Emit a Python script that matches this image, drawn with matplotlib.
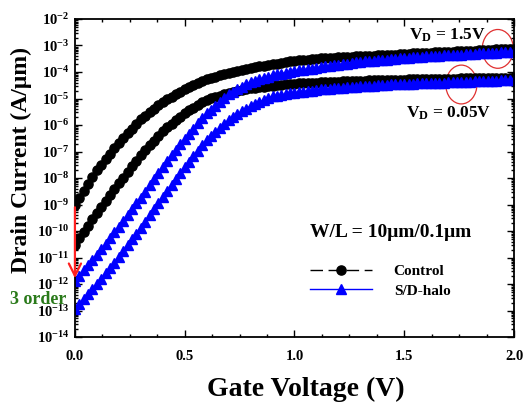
import numpy as np
import matplotlib
matplotlib.use('Agg')
import matplotlib.pyplot as plt
from matplotlib.patches import Ellipse
from matplotlib.ticker import LogLocator, MultipleLocator, FixedLocator, NullFormatter

plt.rcParams.update({
    'font.family': 'Liberation Serif',
    'font.weight': 'bold',
    'mathtext.fontset': 'custom',
    'mathtext.rm': 'Liberation Serif:bold',
    'mathtext.bf': 'Liberation Serif:bold',
    'mathtext.it': 'Liberation Serif:bold:italic',
})

# gate voltage sweep, 0 to 2 V in 20 mV steps
vg = np.linspace(0.0, 2.0, 101)

# log10 of drain current (A/um)
ctrl_15 = [
    -9.00, -8.74, -8.48, -8.23, -7.97, -7.71, -7.50, -7.29, -7.09, -6.88,
    -6.67, -6.49, -6.32, -6.14, -5.97, -5.79, -5.66, -5.52, -5.39, -5.25,
    -5.12, -5.02, -4.93, -4.83, -4.74, -4.64, -4.57, -4.50, -4.42, -4.35,
    -4.28, -4.23, -4.18, -4.13, -4.08, -4.03, -3.99, -3.96, -3.92, -3.89,
    -3.85, -3.82, -3.79, -3.76, -3.73, -3.70, -3.68, -3.65, -3.63, -3.60,
    -3.58, -3.56, -3.55, -3.53, -3.51, -3.50, -3.49, -3.48, -3.47, -3.46,
    -3.45, -3.44, -3.43, -3.42, -3.41, -3.40, -3.39, -3.38, -3.38, -3.37,
    -3.36, -3.35, -3.34, -3.34, -3.33, -3.32, -3.31, -3.30, -3.30, -3.29,
    -3.28, -3.27, -3.26, -3.26, -3.25, -3.24, -3.23, -3.22, -3.22, -3.21,
    -3.20, -3.19, -3.18, -3.18, -3.17, -3.16, -3.15, -3.14, -3.14, -3.13,
    -3.12,
]
ctrl_005 = [
    -10.52, -10.28, -10.04, -9.80, -9.56, -9.32, -9.10, -8.87, -8.65, -8.42,
    -8.20, -7.99, -7.78, -7.56, -7.35, -7.14, -6.96, -6.77, -6.59, -6.40,
    -6.22, -6.08, -5.95, -5.81, -5.68, -5.54, -5.44, -5.34, -5.24, -5.14,
    -5.04, -4.99, -4.94, -4.89, -4.84, -4.79, -4.76, -4.72, -4.69, -4.65,
    -4.62, -4.60, -4.58, -4.55, -4.53, -4.51, -4.50, -4.48, -4.47, -4.45,
    -4.44, -4.43, -4.42, -4.42, -4.41, -4.40, -4.39, -4.38, -4.38, -4.37,
    -4.36, -4.35, -4.35, -4.34, -4.34, -4.33, -4.33, -4.32, -4.32, -4.31,
    -4.31, -4.30, -4.30, -4.29, -4.29, -4.29, -4.28, -4.28, -4.27, -4.27,
    -4.27, -4.27, -4.26, -4.26, -4.26, -4.26, -4.25, -4.25, -4.24, -4.24,
    -4.24, -4.24, -4.23, -4.23, -4.23, -4.23, -4.23, -4.22, -4.22, -4.22,
    -4.22,
]
halo_15 = [
    -11.89, -11.69, -11.49, -11.30, -11.10, -10.90, -10.69, -10.48, -10.26, -10.05,
    -9.84, -9.62, -9.40, -9.18, -8.96, -8.74, -8.51, -8.27, -8.04, -7.80,
    -7.57, -7.36, -7.15, -6.94, -6.73, -6.52, -6.33, -6.14, -5.94, -5.75,
    -5.56, -5.42, -5.27, -5.13, -4.98, -4.84, -4.75, -4.66, -4.56, -4.47,
    -4.38, -4.33, -4.28, -4.22, -4.17, -4.12, -4.09, -4.06, -4.03, -4.00,
    -3.97, -3.94, -3.92, -3.89, -3.87, -3.84, -3.82, -3.79, -3.77, -3.74,
    -3.72, -3.70, -3.68, -3.66, -3.64, -3.62, -3.60, -3.59, -3.57, -3.56,
    -3.54, -3.53, -3.51, -3.50, -3.48, -3.47, -3.46, -3.45, -3.43, -3.42,
    -3.41, -3.40, -3.39, -3.38, -3.37, -3.36, -3.35, -3.34, -3.34, -3.33,
    -3.32, -3.31, -3.30, -3.30, -3.29, -3.28, -3.27, -3.26, -3.26, -3.25,
    -3.24,
]
halo_005 = [
    -12.95, -12.76, -12.57, -12.39, -12.20, -12.01, -11.80, -11.60, -11.39, -11.19,
    -10.98, -10.76, -10.54, -10.32, -10.10, -9.88, -9.65, -9.41, -9.18, -8.94,
    -8.71, -8.49, -8.27, -8.04, -7.82, -7.60, -7.39, -7.18, -6.98, -6.77,
    -6.56, -6.41, -6.26, -6.11, -5.96, -5.81, -5.70, -5.60, -5.49, -5.39,
    -5.28, -5.21, -5.14, -5.06, -4.99, -4.92, -4.89, -4.86, -4.84, -4.81,
    -4.78, -4.76, -4.74, -4.72, -4.70, -4.68, -4.66, -4.65, -4.63, -4.62,
    -4.60, -4.59, -4.58, -4.56, -4.55, -4.54, -4.53, -4.52, -4.51, -4.50,
    -4.49, -4.48, -4.47, -4.47, -4.46, -4.45, -4.44, -4.44, -4.43, -4.43,
    -4.42, -4.41, -4.41, -4.40, -4.40, -4.39, -4.38, -4.38, -4.37, -4.37,
    -4.36, -4.35, -4.35, -4.34, -4.34, -4.33, -4.33, -4.32, -4.32, -4.31,
    -4.31,
]

labels = ['Control', 'S/D-halo']
decades = np.arange(-14, -1)

fig = plt.figure(figsize=(5.24, 4.13), dpi=100)
ax = fig.add_axes([0.143, 0.184, 0.838, 0.770])

ms = 6.6
ax.plot(vg, 10.0 ** np.array(ctrl_15), 'k--o', ms=ms, lw=1, dashes=(9, 4), label=labels[0])
ax.plot(vg, 10.0 ** np.array(ctrl_005), 'k--o', ms=ms, lw=1, dashes=(9, 4))
ax.plot(vg, 10.0 ** np.array(halo_15), '-^', color='#0000ff', ms=ms, lw=1, label=labels[1])
ax.plot(vg, 10.0 ** np.array(halo_005), '-^', color='#0000ff', ms=ms, lw=1)

ax.set_yscale('log')
ax.set_xlim(0, 2.0)
ax.set_ylim(1e-14, 1e-2)
ax.yaxis.set_major_locator(FixedLocator(10.0 ** decades))
ax.set_yticklabels([r'$10^{%d}$' % d for d in decades])
ax.yaxis.set_minor_locator(LogLocator(base=10, subs=np.arange(2, 10), numticks=100))
ax.yaxis.set_minor_formatter(NullFormatter())
ax.xaxis.set_major_locator(MultipleLocator(0.5))
ax.xaxis.set_minor_locator(MultipleLocator(0.125))
ax.set_xticklabels(['%.1f' % v for v in ax.get_xticks()])

ax.tick_params(which='both', direction='in', top=True, right=True, width=1)
ax.tick_params(which='major', length=5, labelsize=10.5)
ax.tick_params(which='minor', length=2.5)
ax.tick_params(axis='x', pad=9)
ax.tick_params(axis='y', pad=4)
for s in ax.spines.values():
    s.set_linewidth(1.3)

ax.set_xlabel('Gate Voltage (V)', fontsize=20, fontweight='bold')
ax.xaxis.set_label_coords(0.526, -0.125)
ax.set_ylabel('Drain Current (A/μm)', fontsize=17, fontweight='bold')
ax.yaxis.set_label_coords(-0.098, 0.557)

ax.legend(loc='center left', bbox_to_anchor=(0.505, 0.176), frameon=False,
          handlelength=4.0, handletextpad=1.45, labelspacing=0.4,
          prop={'family': 'Liberation Serif', 'weight': 'bold', 'size': 11})

ax.text(0.72, 0.33, 'W/L = 10μm/0.1μm', transform=ax.transAxes,
        ha='center', va='center', fontsize=14, fontweight='bold')
ax.text(0.847, 0.95, r'V$_\mathregular{D}$ = 1.5V', transform=ax.transAxes,
        ha='center', va='center', fontsize=12.5, fontweight='bold')
ax.text(0.852, 0.704, r'V$_\mathregular{D}$ = 0.05V', transform=ax.transAxes,
        ha='center', va='center', fontsize=12.5, fontweight='bold')

# red circles marking the on-current region
ax.add_patch(Ellipse((0.963, 0.906), 0.071, 0.122, transform=ax.transAxes,
                     fill=False, ec='#e03030', lw=0.9))
ax.add_patch(Ellipse((0.880, 0.794), 0.071, 0.122, transform=ax.transAxes,
                     fill=False, ec='#e03030', lw=0.9))

# 3 decades drop at Vg = 0
ax.annotate('', xy=(0.0, 1.3e-12), xytext=(0.0, 1e-9),
            arrowprops=dict(arrowstyle='->', color='#ff2020', lw=1.6,
                            mutation_scale=22),
            annotation_clip=False)
fig.text(0.072, 0.276, '3 order', color='#2a7a1a', fontsize=13,
         fontweight='bold', ha='center', va='center')

fig.savefig('out.png', dpi=100)
